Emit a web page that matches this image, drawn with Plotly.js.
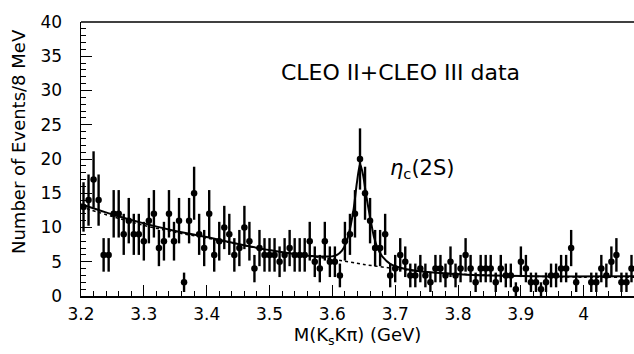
<!DOCTYPE html>
<html>
<head>
<meta charset="utf-8">
<script src="https://cdn.plot.ly/plotly-3.0.1.min.js"></script>
<style>html,body{margin:0;padding:0;background:#fff;}#plot{width:634px;height:354px;}</style>
</head>
<body>
<div id="plot"></div>
<script>
// Histogram: 8 MeV bins starting at 3.200 GeV
const binStart = 3.200;
const binWidth = 0.008;
const counts = [
  13, 14, 17, 14, 6, 6, 12, 12, 9, 11, 9, 9, 8, 11, 12, 7, 8, 12, 8,
  11, 2, 11, 15, 9, 7, 12, 6, 8, 10, 9, 6, 7, 10, 8, 4, 7, 6,
  6, 6, 5, 6, 7, 6, 6, 6, 8, 5, 4, 8, 5, 5, 3, 8, 9, 12,
  20, 15, 11, 7, 7, 9, 3, 4, 6, 5, 3, 3, 4, 3, 2, 4, 4, 3, 5, 3, 4, 6, 4, 2, 4, 4, 4, 2, 4,
  3, 3, 1, 5, 4, 2, 2, 1, 2, 3, 3, 4, 4, 7, 2, 0, 0, 2, 2, 4, 3, 5, 6, 2, 2, 4
];

// Fit curve (signal + background)
const fitX = [3.200, 3.250, 3.300, 3.350, 3.400, 3.450, 3.500, 3.550, 3.590, 3.605, 3.615, 3.622, 3.628, 3.634, 3.639, 3.644, 3.649, 3.654, 3.660, 3.666, 3.672, 3.680, 3.692, 3.710, 3.740, 3.780, 3.850, 3.950, 4.080];
const fitY = [13.4, 11.9, 10.6, 9.5, 8.6, 7.6, 6.7, 6.0, 5.75, 5.9, 6.6, 7.8, 9.8, 12.8, 16.5, 19.3, 17.6, 14.6, 11.5, 8.7, 7.0, 5.7, 4.7, 4.1, 3.6, 3.3, 3.0, 2.85, 2.9];

// Background only (dotted)
const bkgX = [3.200, 3.250, 3.300, 3.350, 3.400, 3.450, 3.500, 3.550, 3.600, 3.650, 3.700, 3.750, 3.800, 3.900, 4.000, 4.080];
const bkgY = [13.0, 11.6, 10.3, 9.3, 8.45, 7.55, 6.65, 5.95, 5.4, 4.6, 4.0, 3.5, 3.2, 2.9, 2.75, 2.75];

const xTickVals = [3.2, 3.3, 3.4, 3.5, 3.6, 3.7, 3.8, 3.9, 4.0];
const xTickText = ['3.2', '3.3', '3.4', '3.5', '3.6', '3.7', '3.8', '3.9', '4'];
const yTickVals = [0, 5, 10, 15, 20, 25, 30, 35, 40];

const px = [], py = [];
counts.forEach((c, k) => {
  if (c > 0) { px.push(binStart + binWidth * (k + 0.5)); py.push(c); }
});

const FONT = 'DejaVu Sans, sans-serif';

const data = [
  {
    x: bkgX, y: bkgY, type: 'scatter', mode: 'lines',
    line: {color: 'black', width: 1.5, dash: 'dot', shape: 'spline', smoothing: 0.6},
    hoverinfo: 'skip', showlegend: false
  },
  {
    x: fitX, y: fitY, type: 'scatter', mode: 'lines',
    line: {color: 'black', width: 2, shape: 'spline', smoothing: 0.6},
    hoverinfo: 'skip', showlegend: false
  },
  {
    x: px, y: py, type: 'scatter', mode: 'markers',
    marker: {color: 'black', size: 6.5},
    error_y: {type: 'sqrt', visible: true, color: 'black', thickness: 2.4, width: 0},
    showlegend: false
  }
];

const layout = {
  width: 634, height: 354,
  margin: {l: 81, r: 0, t: 22, b: 58},
  paper_bgcolor: 'white', plot_bgcolor: 'white',
  font: {family: FONT, color: 'black', size: 16},
  showlegend: false,
  xaxis: {
    range: [3.2, 4.08],
    tickvals: xTickVals, ticktext: xTickText,
    ticks: 'inside', ticklen: 11, tickwidth: 1, tickcolor: 'black',
    minor: {dtick: 0.02, ticks: 'inside', ticklen: 5, tickcolor: 'black', tickwidth: 1, showgrid: false},
    showline: true, linecolor: 'black', linewidth: 1.5,
    showgrid: false, zeroline: false,
    ticklabelstandoff: 2,
    tickfont: {family: FONT, size: 17, color: 'black'},
    title: {text: 'M(K<sub>s</sub>Kπ) (GeV)', font: {family: FONT, size: 18, color: 'black'}, standoff: 3}
  },
  yaxis: {
    range: [0, 40],
    tickvals: yTickVals,
    ticks: 'inside', ticklen: 11, tickwidth: 1, tickcolor: 'black',
    minor: {dtick: 1, ticks: 'inside', ticklen: 5, tickcolor: 'black', tickwidth: 1, showgrid: false},
    showline: true, linecolor: 'black', linewidth: 1.5,
    showgrid: false, zeroline: false,
    ticklabelstandoff: 14,
    tickfont: {family: FONT, size: 17, color: 'black'}
  },
  shapes: [
    {type: 'line', xref: 'paper', yref: 'paper', x0: 0, x1: 1, y0: 1, y1: 1, line: {color: 'black', width: 1.5}}
  ],
  annotations: [
    {x: 0, y: 0, xref: 'paper', yref: 'paper', text: 'Number of Events/8 MeV', showarrow: false,
     textangle: -90, xanchor: 'center', yanchor: 'middle',
     font: {family: FONT, size: 18, color: 'black'}},
    {x: 3.708, y: 32.7, xref: 'x', yref: 'y', text: 'CLEO II+CLEO III data', showarrow: false,
     xanchor: 'center', yanchor: 'middle', font: {family: FONT, size: 22, color: 'black'}},
    {x: 3.742, y: 18.6, xref: 'x', yref: 'y', text: '<i>η</i><sub>c</sub>(2S)', showarrow: false,
     xanchor: 'center', yanchor: 'middle', font: {family: FONT, size: 21, color: 'black'}}
  ]
};
// y-title annotation positioned in paper units from pixel targets
layout.annotations[0].x = (18 - 81) / 553;
layout.annotations[0].y = (296 - 142) / 274;

Plotly.newPlot('plot', data, layout, {displayModeBar: false, staticPlot: true});
</script>
</body>
</html>
